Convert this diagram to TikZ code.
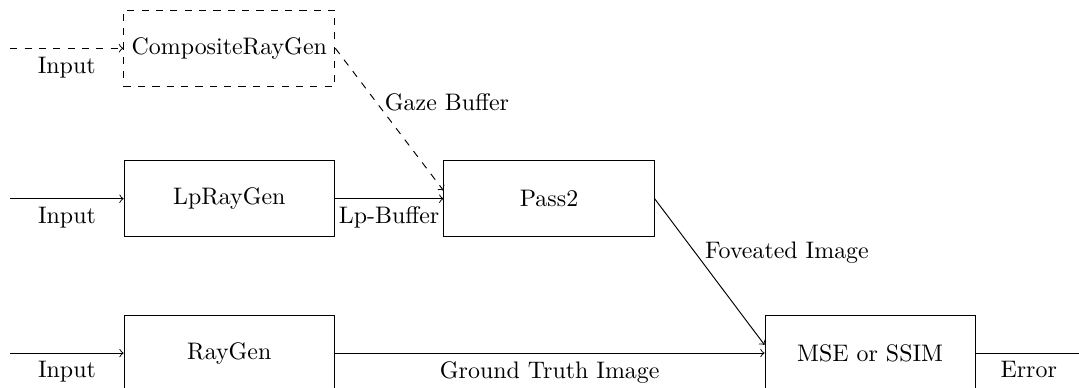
\documentclass[tikz,border=0pt]{standalone}
\usetikzlibrary{positioning}
\begin{document}
\begin{tikzpicture}[
		block/.style={draw, minimum width=3.09cm, minimum height=1.12cm},
		lbl/.style={midway, below},
		slbl/.style={midway, above right, xshift=-0.19cm}
	]
		\def\rowa{0}
		\def\rowb{-2.21}
		\def\rowc{-4.48}
		\useasboundingbox (0,-4.98) rectangle (15.86,0.71);
		% blocks
			\node [block, dashed] (comp) at (3.37,\rowa) {CompositeRayGen};
			\node [block] (lp) at (3.37,\rowb) {LpRayGen};
			\node [block] (pass) at (8.07,\rowb) {Pass2};
			\node [block] (ray) at (3.37,\rowc) {RayGen};
			\node [block] (mse) at (12.79,\rowc) {MSE or SSIM};
		% inputs
			\coordinate (ina) at (0.15,\rowa);
			\coordinate (inb) at (0.15,\rowb);
			\coordinate (inc) at (0.15,\rowc);
			\coordinate (out) at (15.9,\rowc);
			\draw [->, dashed] (ina) -- (comp) node [lbl] {Input};
			\draw [->] (inb) -- (lp) node [lbl] {Input};
			\draw [->] (inc) -- (ray) node [lbl] {Input};
		% buffers
			\draw [->] (lp) -- (pass) node [lbl] {Lp-Buffer};
			\draw [->, dashed] (comp.east) -- ([yshift=0.12cm]pass.west) node [slbl] {Gaze Buffer};
		% images
			\draw [->] (pass.east) -- ([yshift=0.12cm]mse.west) node [slbl] {Foveated Image};
			\draw [->] (ray) -- (mse) node [lbl] {Ground Truth Image};
			\draw (mse) -- (out) node [lbl] {Error};
	\end{tikzpicture}
\end{document}
